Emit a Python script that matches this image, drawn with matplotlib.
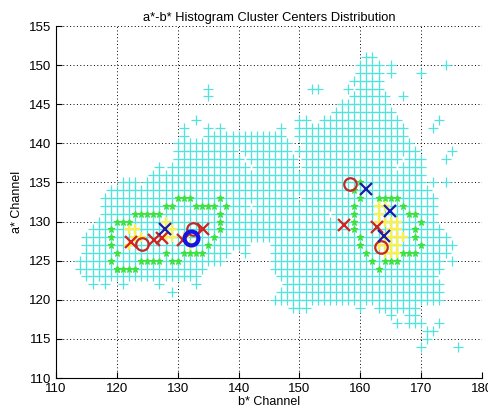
import numpy as np
import matplotlib.pyplot as plt

plt.rcParams['font.family'] = ['Liberation Sans', 'DejaVu Sans']

# histogram bins (a* row -> runs of b* values)
cyan_rows = [
    (151, [(161, 162)]),
    (150, [(160, 163), (165, 165), (174, 174)]),
    (149, [(160, 163), (165, 165), (170, 170)]),
    (148, [(159, 163)]),
    (147, [(135, 135), (152, 153), (158, 158), (160, 163)]),
    (146, [(135, 135), (159, 164), (167, 167)]),
    (145, [(157, 164)]),
    (144, [(156, 165)]),
    (143, [(133, 133), (150, 151), (154, 166), (173, 173)]),
    (142, [(131, 131), (135, 135), (137, 137), (147, 147), (150, 167), (172, 172)]),
    (141, [(131, 131), (135, 147), (150, 167)]),
    (140, [(130, 148), (151, 168)]),
    (139, [(130, 139), (141, 148), (150, 169), (175, 175)]),
    (138, [(130, 140), (142, 149), (151, 166), (168, 170), (174, 174)]),
    (137, [(127, 127), (129, 141), (143, 149), (151, 165), (167, 170)]),
    (136, [(126, 170)]),
    (135, [(121, 123), (125, 170), (172, 172), (174, 174)]),
    (134, [(119, 171)]),
    (133, [(118, 149), (151, 172)]),
    (132, [(118, 141), (143, 172)]),
    (131, [(118, 154), (156, 172)]),
    (130, [(117, 172)]),
    (129, [(116, 173)]),
    (128, [(115, 174)]),
    (127, [(115, 141), (146, 175)]),
    (126, [(115, 138), (141, 141), (146, 174)]),
    (125, [(114, 137), (146, 173), (175, 175)]),
    (124, [(114, 134), (146, 173)]),
    (123, [(115, 133), (147, 172)]),
    (122, [(116, 116), (118, 118), (121, 121), (127, 127), (133, 133), (148, 173)]),
    (121, [(129, 129), (147, 173)]),
    (120, [(146, 173)]),
    (119, [(149, 151), (160, 160), (163, 169)]),
    (118, [(165, 165), (168, 169)]),
    (117, [(166, 166), (168, 170), (173, 173)]),
    (116, [(171, 172)]),
    (115, [(171, 171)]),
    (114, [(170, 170), (176, 176)]),
]

# ring of second-level bins
green_b = [119, 119, 119, 120, 121, 122, 120, 123, 124, 125, 126, 127, 128, 129, 130, 131, 132,
           133, 134, 135, 136, 137, 138, 137, 137, 137, 136, 135, 131, 132, 133, 134, 128,
           129, 130, 124, 125, 126, 127, 119, 120, 120, 121, 122, 123,
           160, 159, 160, 163, 164, 165, 166, 159, 159, 159, 159, 160, 160, 161, 162, 163,
           164, 165, 166, 167, 168, 169, 167, 168, 169, 170, 169, 169, 170]
green_a = [129, 128, 127, 130, 130, 130, 126, 131, 131, 131, 131, 131, 132, 132, 133, 133, 133,
           132, 132, 132, 132, 133, 132, 131, 130, 129, 128, 127, 126, 126, 126, 126, 126,
           125, 125, 125, 125, 125, 125, 125, 124, 124, 124, 124, 124,
           135, 134, 133, 133, 133, 133, 133, 132, 131, 130, 129, 128, 127, 126, 125, 124,
           125, 125, 125, 132, 131, 131, 126, 126, 126, 130, 129, 128, 127]

yellow_b = [122, 123, 123, 124, 122, 128, 129, 128, 129, 131, 132,
            163, 164, 163, 163, 164, 165, 166, 165, 166, 164, 165, 166, 167,
            163, 164, 165, 166, 164, 165, 166]
yellow_a = [129, 129, 128, 128, 127, 130, 129, 128, 128, 128, 127,
            132, 132, 131, 130, 130, 130, 130, 129, 129, 128, 128, 128, 128,
            127, 127, 127, 127, 126, 126, 126]

# cluster centers
red_x_b = [122.4, 126.1, 127.4, 130.9, 134.2, 157.3, 162.8]
red_x_a = [127.4, 127.6, 127.9, 127.6, 129.1, 129.6, 129.3]
red_o_b = [124.1, 132.5, 158.3, 163.4]
red_o_a = [127.2, 129.1, 134.8, 126.7]
blue_x_b = [127.9, 160.9, 164.9, 163.9]
blue_x_a = [129.1, 134.2, 131.3, 128.1]
blue_o_b = [132.1]
blue_o_a = [127.9]

cb, ca = [], []
for a, runs in cyan_rows:
    for s, e in runs:
        for b in range(s, e + 1):
            cb.append(b)
            ca.append(a)

fig = plt.figure(figsize=(4.88, 4.16), dpi=100)
ax = fig.add_axes([0.1148, 0.0913, 0.873, 0.846])

ax.plot(cb, ca, '+', color='#52e4dc', ms=7, mew=0.9, zorder=2)
ax.plot(yellow_b, yellow_a, '+', color='#f6ef55', ms=7, mew=1.6, zorder=3)
ax.plot(green_b, green_a, '*', color='#3ee03a', ms=5, mew=0.8, zorder=4)
ax.plot(red_x_b, red_x_a, 'x', color='#d42222', ms=8, mew=1.6, zorder=5)
ax.plot(red_o_b, red_o_a, 'o', mfc='none', mec='#c42828', ms=9, mew=1.6, zorder=5)
ax.plot(blue_x_b, blue_x_a, 'x', color='#1c1ca8', ms=8, mew=1.6, zorder=6)
ax.plot(blue_o_b, blue_o_a, 'o', mfc='none', mec='#1414e6', ms=10, mew=3, zorder=6)

ax.set_xlim(110, 180)
ax.set_ylim(110, 155)
ax.set_xticks(np.arange(110, 181, 10))
ax.set_yticks(np.arange(110, 156, 5))
ax.grid(True, linestyle=(0, (1, 2.5)), color='black', linewidth=0.7)
ax.set_axisbelow(True)
ax.spines['top'].set_visible(False)
ax.spines['right'].set_visible(False)
ax.tick_params(direction='in', length=4, labelsize=9.5, top=False, right=False)

ax.set_title('a*-b* Histogram Cluster Centers Distribution', fontsize=9.3, pad=4)
ax.set_xlabel('b* Channel', fontsize=9, labelpad=1)
ax.set_ylabel('a* Channel', fontsize=9, labelpad=4)

fig.savefig('out.png', dpi=100)
